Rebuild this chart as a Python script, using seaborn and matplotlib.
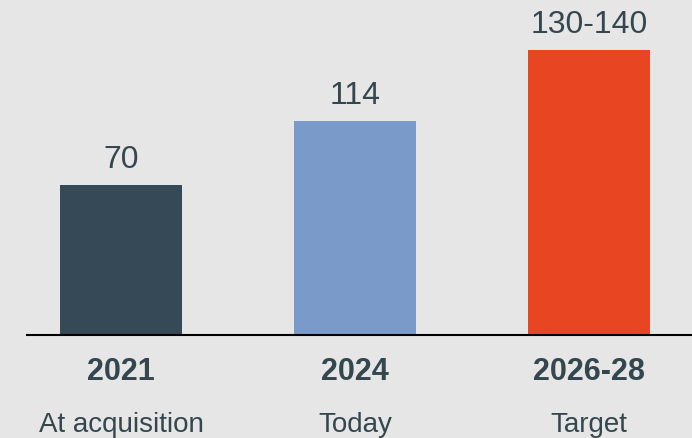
import matplotlib
matplotlib.use("Agg")
import matplotlib.pyplot as plt
import seaborn as sns
import pandas as pd

# data
years = ["2021", "2024", "2026-28"]
subtitles = ["At acquisition", "Today", "Target"]
value_labels = ["70", "114", "130-140"]
# bar heights as drawn in the reference (its bars are not strictly to scale)
heights = [70, 100, 133]
bar_colors = ["#354a56", "#7a9bc9", "#e84622"]

BG = "#e6e6e6"
TEXT = "#34474f"

sns.set_theme(style="white")
plt.rcParams["font.family"] = ["Liberation Sans", "DejaVu Sans"]

df = pd.DataFrame({"year": years, "value": heights})

fig = plt.figure(figsize=(6.92, 4.39), dpi=100, facecolor=BG)
ax = fig.add_axes([27 / 692, 103 / 439, 665 / 692, 336 / 439])
ax.set_facecolor(BG)

sns.barplot(data=df, x="year", y="value", hue="year", palette=bar_colors,
            width=0.52, legend=False, saturation=1, linewidth=0, ax=ax)

ax.set_xlim(-0.402, 2.44)
ax.set_ylim(0, 156.8)

# value labels above bars
for i, (h, lab) in enumerate(zip(heights, value_labels)):
    ax.annotate(lab, (i, h), xytext=(0, 8), textcoords="offset points",
                ha="center", va="bottom", fontsize=23, color=TEXT)

# year + subtitle under the axis
for i, (yr, sub) in enumerate(zip(years, subtitles)):
    ax.annotate(yr, (i, 0), xycoords=("data", "axes fraction"),
                xytext=(0, -26), textcoords="offset points",
                ha="center", va="center", fontsize=22, fontweight="bold",
                color=TEXT, annotation_clip=False)
    ax.annotate(sub, (i, 0), xycoords=("data", "axes fraction"),
                xytext=(0, -64), textcoords="offset points",
                ha="center", va="center", fontsize=20,
                color=TEXT, annotation_clip=False)

ax.set_xticks([])
ax.set_yticks([])
ax.set_xlabel("")
ax.set_ylabel("")
for side in ["top", "right", "left"]:
    ax.spines[side].set_visible(False)
ax.spines["bottom"].set_color("black")
ax.spines["bottom"].set_linewidth(1.5)

fig.savefig("out.png", dpi=100, facecolor=BG)
